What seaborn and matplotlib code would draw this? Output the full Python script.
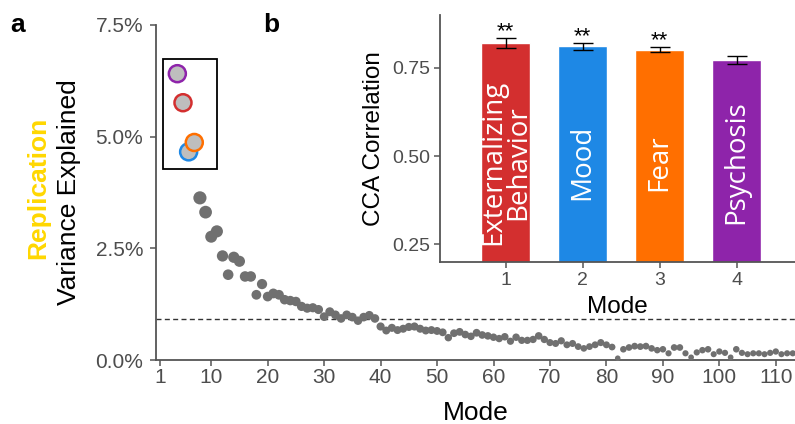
import matplotlib
matplotlib.use("Agg")
import matplotlib.pyplot as plt
import matplotlib.patches as mpatches
from matplotlib.colors import PowerNorm
from matplotlib.ticker import FuncFormatter
import pandas as pd
import seaborn as sns

# panel a: variance explained per mode (replication sample)
modes = list(range(8, 114))
variance = [
    3.63, 3.31, 2.76, 2.88, 2.33, 1.91, 2.30, 2.21, 1.87, 1.87,
    1.46, 1.70, 1.42, 1.49, 1.46, 1.35, 1.33, 1.31, 1.20, 1.16,
    1.17, 1.13, 0.97, 1.08, 1.01, 0.93, 1.01, 0.96, 0.88, 0.96,
    1.00, 0.93, 0.75, 0.66, 0.72, 0.67, 0.70, 0.74, 0.75, 0.70,
    0.66, 0.67, 0.65, 0.62, 0.50, 0.60, 0.63, 0.57, 0.53, 0.61,
    0.56, 0.54, 0.51, 0.48, 0.52, 0.42, 0.51, 0.44, 0.44, 0.46,
    0.54, 0.46, 0.39, 0.37, 0.43, 0.34, 0.37, 0.30, 0.26, 0.30,
    0.34, 0.39, 0.34, 0.29, 0.04, 0.24, 0.28, 0.31, 0.30, 0.31,
    0.26, 0.22, 0.24, 0.15, 0.28, 0.28, 0.15, 0.06, 0.17, 0.22,
    0.24, 0.13, 0.19, 0.16, 0.06, 0.24, 0.16, 0.13, 0.15, 0.15,
    0.13, 0.16, 0.19, 0.13, 0.15, 0.15,
]
top_modes = [4, 5, 6, 7]
top_variance = [6.41, 5.76, 4.66, 4.87]
top_colors = ["#8E24AA", "#D32F2F", "#1E88E5", "#FF6F00"]
threshold = 0.91
x_ticks = [1, 10, 20, 30, 40, 50, 60, 70, 80, 90, 100, 110]
y_ticks = [0, 2.5, 5.0, 7.5]

# panel b: CCA correlation of the four modes
cca_modes = ["1", "2", "3", "4"]
cca_r = [0.820, 0.811, 0.802, 0.773]
cca_err = [0.0145, 0.011, 0.007, 0.012]
cca_names = ["Externalizing\nBehavior", "Mood", "Fear", "Psychosis"]
cca_stars = ["**", "**", "**", ""]
bar_colors = ["#D32F2F", "#1E88E5", "#FF6F00", "#8E24AA"]

sns.set_style("ticks")
plt.rcParams["font.family"] = ["Liberation Sans", "DejaVu Sans"]
plt.rcParams["text.color"] = "black"
plt.rcParams["axes.labelcolor"] = "black"

axis_col = "#555555"
tick_col = "#4D4D4D"

fig = plt.figure(figsize=(7.95, 4.24), dpi=100)
ax = fig.add_axes([156 / 795, 64 / 424, 639 / 795, 335 / 424])

df = pd.DataFrame({"mode": modes, "variance": variance})
sns.scatterplot(data=df, x="mode", y="variance", size="variance", sizes=(16, 90),
                size_norm=PowerNorm(0.85, vmin=min(variance), vmax=max(variance)),
                color="#707070", edgecolor="none", linewidth=0, legend=False,
                ax=ax, clip_on=False, zorder=3)
top_df = pd.DataFrame({"mode": top_modes, "variance": top_variance})
sns.scatterplot(data=top_df, x="mode", y="variance", s=150, color="#BEBEBE",
                edgecolor=top_colors, linewidth=1.8, legend=False, ax=ax, zorder=4)
ax.add_patch(mpatches.Rectangle((1.5, 4.28), 9.6, 2.47, fill=False,
                                edgecolor="black", lw=1.3, zorder=2))
ax.axhline(threshold, color="#333333", lw=1, ls=(0, (3.6, 2.4)), zorder=1)

ax.set_xlim(0.22, 113.4)
ax.set_ylim(0, 7.5)
ax.set_xticks(x_ticks)
ax.set_yticks(y_ticks)
ax.yaxis.set_major_formatter(FuncFormatter(lambda v, p: f"{v:.1f}%"))
ax.tick_params(axis="x", labelsize=15, colors=axis_col, labelcolor=tick_col,
               length=4, width=1.1, pad=2)
ax.tick_params(axis="y", labelsize=15, colors=axis_col, labelcolor=tick_col,
               length=4.3, width=1.1, pad=5)
ax.set_xlabel("Mode", fontsize=19, labelpad=10)
ax.set_ylabel("Variance Explained", fontsize=19, labelpad=10)
sns.despine(ax=ax)
for side in ["left", "bottom"]:
    ax.spines[side].set_color(axis_col)
    ax.spines[side].set_linewidth(1.3)

fig.text(38 / 795, 1 - 187.5 / 424, "Replication", rotation=90, ha="center",
         va="center", fontsize=19, fontweight="bold", color="#FFD700")
fig.text(10 / 795, 1 - 32 / 424, "a", fontsize=19, fontweight="bold", va="baseline")
fig.text(263 / 795, 1 - 32 / 424, "b", fontsize=19, fontweight="bold", va="baseline")

# inset bar chart
axb = fig.add_axes([440 / 795, 162 / 424, 355 / 795, 247 / 424])
cca_df = pd.DataFrame({"mode": cca_modes, "r": cca_r})
sns.barplot(data=cca_df, x="mode", y="r", hue="mode", palette=bar_colors,
            saturation=1, width=0.64, legend=False, ax=axb)
centers = [p.get_x() + p.get_width() / 2 for p in axb.patches]
axb.errorbar(centers, cca_r, yerr=cca_err, fmt="none", ecolor="black",
             elinewidth=1, capsize=7, capthick=1, zorder=5)
for xc, r, e, name, star in zip(centers, cca_r, cca_err, cca_names, cca_stars):
    axb.text(xc, 0.482, name, rotation=90, ha="center", va="center",
             color="white", fontsize=20, family=["Open Sans", "DejaVu Sans"],
             linespacing=0.88)
    if star:
        axb.text(xc, r + e + 0.002, star, ha="center", va="baseline", fontsize=16)

axb.set_xlim(-0.852, 3.758)
axb.set_ylim(0.2, 0.9)
axb.set_yticks([0.25, 0.50, 0.75])
axb.yaxis.set_major_formatter(FuncFormatter(lambda v, p: f"{v:.2f}"))
axb.tick_params(labelsize=14, colors=axis_col, labelcolor=tick_col,
                length=4.3, width=1.1, pad=3)
axb.set_xlabel("Mode", fontsize=17.5, labelpad=5)
axb.set_ylabel("CCA Correlation", fontsize=17.5, labelpad=5)
sns.despine(ax=axb)
for side in ["left", "bottom"]:
    axb.spines[side].set_color(axis_col)
    axb.spines[side].set_linewidth(1.3)

fig.savefig("out.png", dpi=100)
